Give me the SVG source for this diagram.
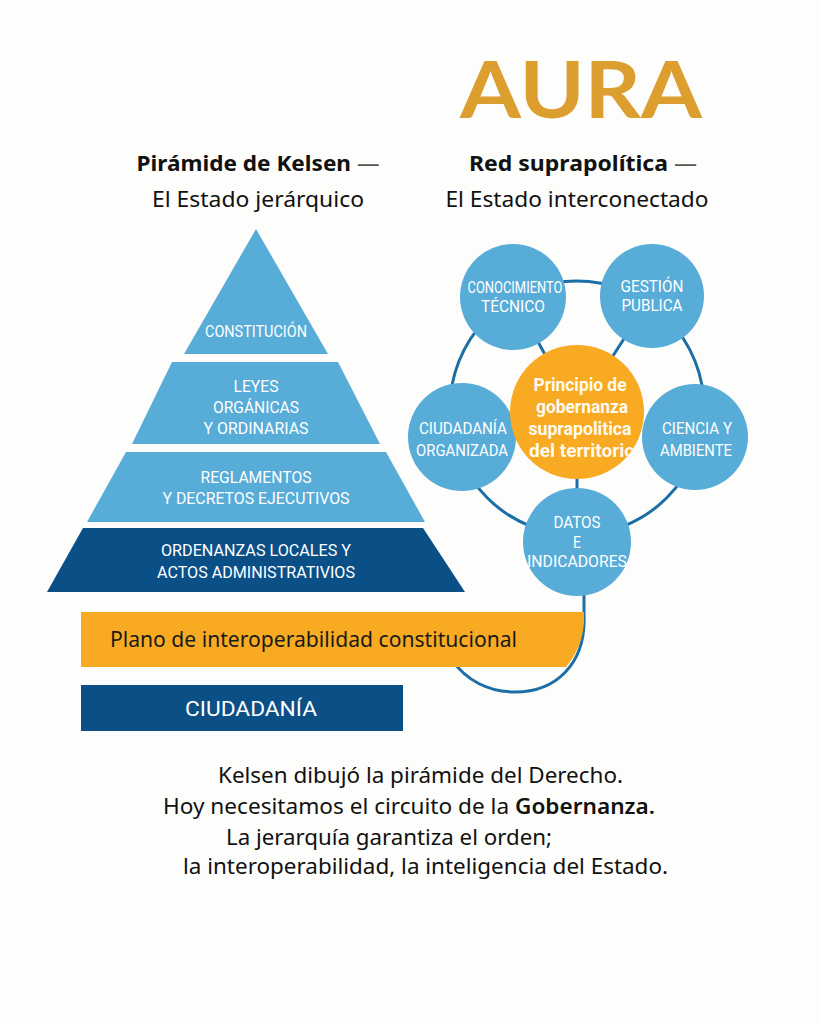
<svg xmlns="http://www.w3.org/2000/svg" width="819" height="1023" viewBox="0 0 819 1023">
<defs>
<style>
.bg{fill:#fdfdfb}
.lb{fill:#58acd8}
.db{fill:#0b4f87}
.or{fill:#f8aa22}
.cap{font-family:"Roboto","Liberation Sans",sans-serif;font-size:17px;font-weight:400;fill:#ffffff;text-anchor:middle}
.cen{font-family:"Roboto","Liberation Sans",sans-serif;font-size:18px;font-weight:700;fill:#fffaf0;text-anchor:middle}
.ttl{font-family:"Noto Sans","Open Sans",sans-serif;font-size:22px;fill:#111111;text-anchor:middle}
.dash{font-weight:400;fill:#555555}
.bot{font-family:"Noto Sans","Open Sans",sans-serif;font-size:21px;fill:#111111}
.wire{fill:none;stroke:#1c6ea6;stroke-width:3}
</style>
<clipPath id="cpCen"><circle cx="577" cy="412" r="67"/></clipPath>
<clipPath id="cpCon"><circle cx="513" cy="297" r="53"/></clipPath>
<clipPath id="cpDat"><circle cx="577" cy="542" r="54"/></clipPath>
</defs>
<rect class="bg" x="0" y="0" width="819" height="1023"/>

<g id="title">
<text x="581" y="118" font-family="Lato,'Open Sans',sans-serif" font-weight="700" font-size="78" fill="#dd9e30" text-anchor="middle" textLength="242" lengthAdjust="spacingAndGlyphs">AURA</text>
</g>

<g id="heading-left">
<text class="ttl" x="258" y="171" font-weight="700" textLength="243" lengthAdjust="spacingAndGlyphs">Pirámide de Kelsen <tspan class="dash">—</tspan></text>
<text class="ttl" x="258" y="207" textLength="212" lengthAdjust="spacingAndGlyphs">El Estado jerárquico</text>
</g>
<g id="heading-right">
<text class="ttl" x="583" y="171" font-weight="700" textLength="228" lengthAdjust="spacingAndGlyphs">Red suprapolítica <tspan class="dash">—</tspan></text>
<text class="ttl" x="577" y="207" textLength="263" lengthAdjust="spacingAndGlyphs">El Estado interconectado</text>
</g>

<g id="connectors">
<circle class="wire" cx="577" cy="408" r="127"/>
<line class="wire" x1="577" y1="412" x2="513" y2="297"/>
<line class="wire" x1="577" y1="412" x2="652" y2="295"/>
<line class="wire" x1="577" y1="412" x2="577" y2="542"/>
<path class="wire" d="M584,590 L584,615 C586,665 555,692 515,692 C488,692 466,680 452,660"/>
</g>

<g id="tier-constitucion">
<polygon class="lb" points="256,229 328,354 184,354"/>
<text class="cap" x="256" y="337" textLength="102" lengthAdjust="spacingAndGlyphs">CONSTITUCIÓN</text>
</g>
<g id="tier-leyes">
<polygon class="lb" points="172,362 338,362 380,444 132,444"/>
<text class="cap" x="256" y="392" textLength="45" lengthAdjust="spacingAndGlyphs">LEYES</text>
<text class="cap" x="256" y="413" textLength="86" lengthAdjust="spacingAndGlyphs">ORGÁNICAS</text>
<text class="cap" x="256" y="434" textLength="105" lengthAdjust="spacingAndGlyphs">Y ORDINARIAS</text>
</g>
<g id="tier-reglamentos">
<polygon class="lb" points="126,452 386,452 425,522 87,522"/>
<text class="cap" x="256" y="483" textLength="111" lengthAdjust="spacingAndGlyphs">REGLAMENTOS</text>
<text class="cap" x="256" y="504" textLength="187" lengthAdjust="spacingAndGlyphs">Y DECRETOS EJECUTIVOS</text>
</g>
<g id="tier-ordenanzas">
<polygon class="db" points="83,528 423,528 465,592 47,592"/>
<text class="cap" x="256" y="556" textLength="190" lengthAdjust="spacingAndGlyphs">ORDENANZAS LOCALES Y</text>
<text class="cap" x="256" y="578" textLength="198" lengthAdjust="spacingAndGlyphs">ACTOS ADMINISTRATIVIOS</text>
</g>

<g id="node-conocimiento">
<circle class="lb" cx="513" cy="297" r="53"/>
<g clip-path="url(#cpCon)">
<text class="cap" x="515" y="293" textLength="95" lengthAdjust="spacingAndGlyphs">CONOCIMIENTO</text>
<text class="cap" x="513" y="312" textLength="64" lengthAdjust="spacingAndGlyphs">TÉCNICO</text>
</g>
</g>
<g id="node-gestion">
<circle class="lb" cx="652" cy="296" r="52"/>
<text class="cap" x="652" y="292" textLength="63" lengthAdjust="spacingAndGlyphs">GESTIÓN</text>
<text class="cap" x="652" y="311" textLength="61" lengthAdjust="spacingAndGlyphs">PUBLICA</text>
</g>
<g id="node-ciudadania-org">
<circle class="lb" cx="462" cy="437" r="54"/>
<text class="cap" x="463" y="434" textLength="88" lengthAdjust="spacingAndGlyphs">CIUDADANÍA</text>
<text class="cap" x="462" y="456" textLength="92" lengthAdjust="spacingAndGlyphs">ORGANIZADA</text>
</g>
<g id="node-ciencia">
<circle class="lb" cx="695" cy="437" r="53"/>
<text class="cap" x="697" y="434" textLength="70" lengthAdjust="spacingAndGlyphs">CIENCIA Y</text>
<text class="cap" x="696" y="456" textLength="72" lengthAdjust="spacingAndGlyphs">AMBIENTE</text>
</g>
<g id="node-principio">
<circle class="or" cx="577" cy="412" r="67"/>
<g clip-path="url(#cpCen)">
<text class="cen" x="580" y="391" textLength="93" lengthAdjust="spacingAndGlyphs">Principio de</text>
<text class="cen" x="582" y="413" textLength="92" lengthAdjust="spacingAndGlyphs">gobernanza</text>
<text class="cen" x="580" y="435" textLength="103" lengthAdjust="spacingAndGlyphs">suprapolitica</text>
<text class="cen" x="582" y="457" textLength="106" lengthAdjust="spacingAndGlyphs">del territorio</text>
</g>
</g>
<g id="node-datos">
<circle class="lb" cx="577" cy="542" r="54"/>
<g clip-path="url(#cpDat)">
<text class="cap" x="577" y="528" textLength="47" lengthAdjust="spacingAndGlyphs">DATOS</text>
<text class="cap" x="577" y="548" textLength="8" lengthAdjust="spacingAndGlyphs">E</text>
<text class="cap" x="577" y="567" textLength="100" lengthAdjust="spacingAndGlyphs">INDICADORES</text>
</g>
</g>

<g id="plano">
<path class="or" d="M81,612 L584,612 L584,622 C583,640 576,655 566,667 L81,667 Z"/>
<text x="110" y="647" font-family="'Noto Sans','Open Sans',sans-serif" font-size="21" fill="#1a1a1a" textLength="407" lengthAdjust="spacingAndGlyphs">Plano de interoperabilidad constitucional</text>
</g>
<g id="ciudadania">
<rect class="db" x="81" y="685" width="322" height="46"/>
<text x="251" y="716" font-family="'Roboto','Liberation Sans',sans-serif" font-size="21" fill="#ffffff" text-anchor="middle" textLength="132" lengthAdjust="spacingAndGlyphs">CIUDADANÍA</text>
</g>

<g id="closing-text">
<text class="bot" x="218" y="783" textLength="405" lengthAdjust="spacingAndGlyphs">Kelsen dibujó la pirámide del Derecho.</text>
<text class="bot" x="163" y="814" textLength="492" lengthAdjust="spacingAndGlyphs">Hoy necesitamos el circuito de la <tspan font-weight="600">Gobernanza.</tspan></text>
<text class="bot" x="226" y="845" textLength="326" lengthAdjust="spacingAndGlyphs">La jerarquía garantiza el orden;</text>
<text class="bot" x="183" y="874" textLength="485" lengthAdjust="spacingAndGlyphs">la interoperabilidad, la inteligencia del  Estado.</text>
</g>
</svg>
